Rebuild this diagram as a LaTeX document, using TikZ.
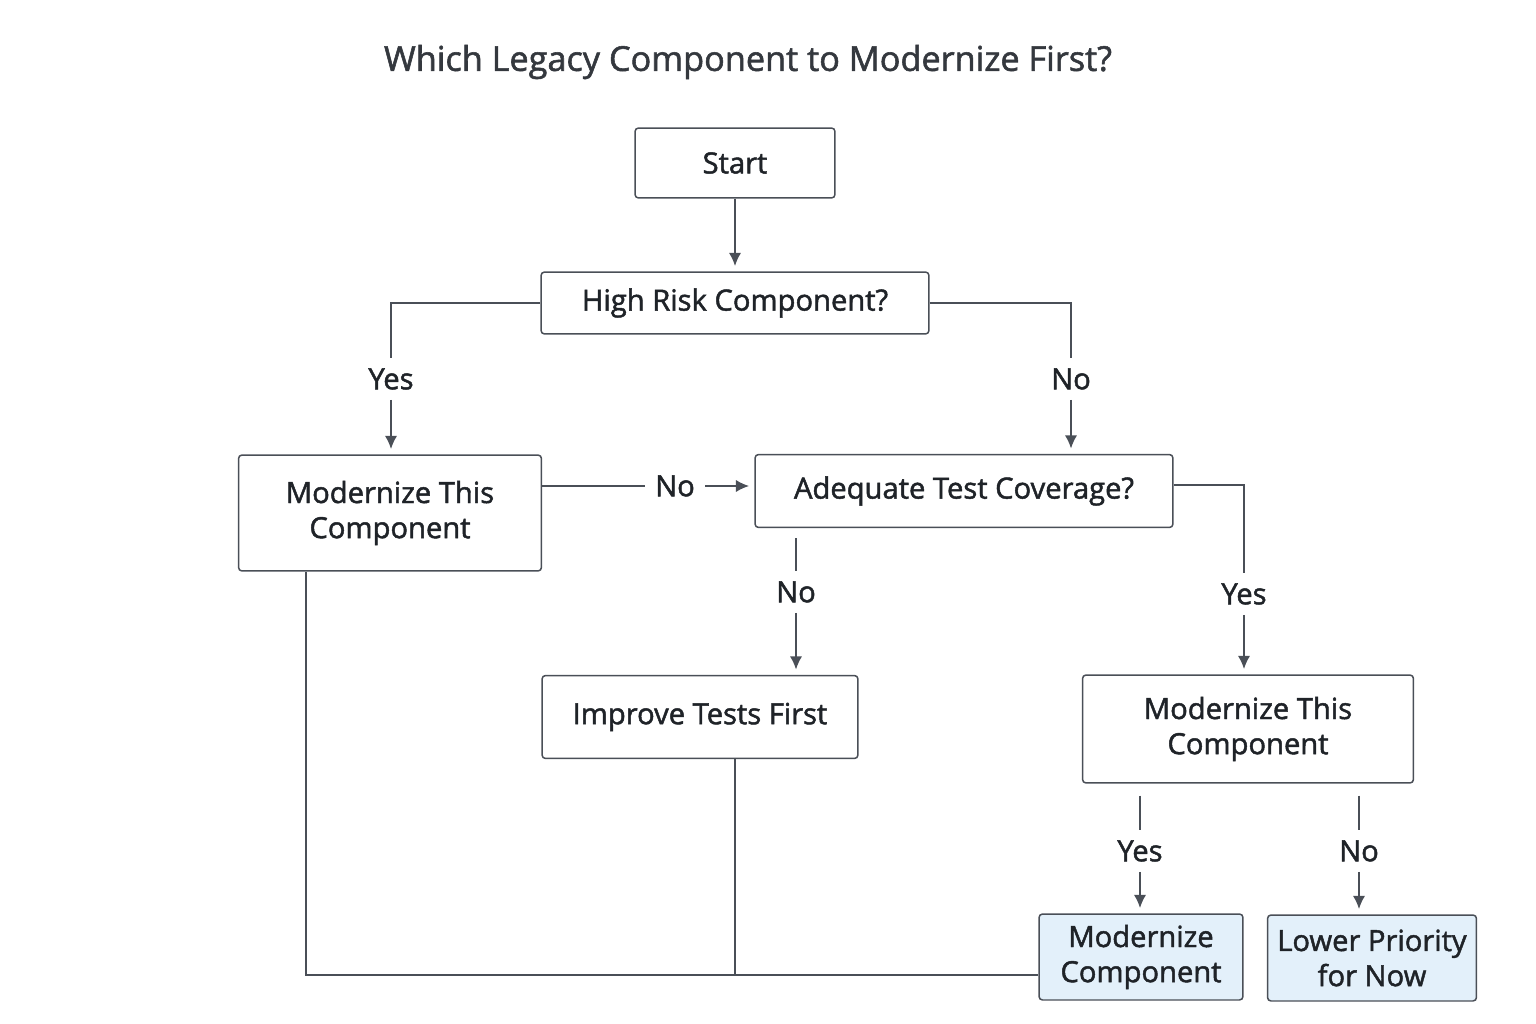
\documentclass[tikz,border=0pt]{standalone}
\usepackage{fontspec}
\setmainfont{Open Sans}[FakeBold=1.6]
\usepackage{tikz}
\usetikzlibrary{calc}
\usetikzlibrary{arrows.meta}
\usetikzlibrary{positioning}
\definecolor{edgegray}{HTML}{4A4F57}
\definecolor{inkgray}{HTML}{1F2328}
\definecolor{titlegray}{HTML}{34383E}
\definecolor{endblue}{HTML}{E3F0FA}
\tikzset{
  box/.style={draw=edgegray, line width=0.85pt, rounded corners=2pt, fill=white,
    text=inkgray, align=center, font=\fontsize{16.6}{20}\selectfont},
  endbox/.style={box, fill=endblue},
  lbl/.style={text=inkgray, inner sep=0.2cm, font=\fontsize{16.6}{20}\selectfont},
  wire/.style={draw=edgegray, line width=0.85pt},
  arr/.style={wire, ->, shorten >=3pt}
}
\begin{document}
\begin{tikzpicture}[x=0.02cm,y=-0.02cm,>={Latex[length=7.5pt,width=7pt]}]
    \useasboundingbox (0,0) rectangle (1536,1024);
    \node (title) at (748,62) [text=titlegray, font=\fontsize{19.5}{23}\selectfont] {Which Legacy Component to Modernize First?};
    % boxes
    \node (start) at (735,163) [box, minimum width=4cm, minimum height=1.4cm] {Start};
    \node (risk) at (735,303) [box, minimum width=7.76cm, minimum height=1.24cm] {High Risk Component?};
    \node (modA) at (390,513) [box, minimum width=6.06cm, minimum height=2.32cm] {Modernize This\\Component};
    \node (cover) at (964,491) [box, minimum width=8.36cm, minimum height=1.46cm] {Adequate Test Coverage?};
    \node (tests) at (700,717) [box, minimum width=6.32cm, minimum height=1.66cm] {Improve Tests First};
    \node (modB) at (1248,729) [box, minimum width=6.62cm, minimum height=2.16cm] {Modernize This\\Component};
    \node (final) at (1141,957) [endbox, minimum width=4.08cm, minimum height=1.72cm] {Modernize\\Component};
    \node (later) at (1372,958) [endbox, minimum width=4.18cm, minimum height=1.72cm] {Lower Priority\\for Now};
    % labels
    \node (yesA) at (391,379) [lbl] {Yes};
    \node (noA) at (1071,379) [lbl] {No};
    \node (noB) at (675,486) [lbl] {No};
    \node (noC) at (796,592) [lbl] {No};
    \node (yesC) at (1244,594) [lbl] {Yes};
    \node (yesD) at (1140,851) [lbl] {Yes};
    \node (noD) at (1359,851) [lbl] {No};
    % connectors
    \draw [arr] (start.south) -- (risk.north);
    \draw [wire] (risk.west) -| (yesA.north);
    \draw [arr] (yesA.south) -- (yesA.south |- modA.north);
    \draw [wire] (risk.east) -| (noA.north);
    \draw [arr] (noA.south) -- (noA.south |- cover.north);
    \draw [wire] (modA.east |- noB) -- (noB.west);
    \draw [arr] (noB.east) -- (cover.west |- noB);
    \draw [wire, shorten <=0.2cm] (noC.north |- cover.south) -- (noC.north);
    \draw [arr] (noC.south) -- (noC.south |- tests.north);
    \draw [wire] (cover.east |- 0,485) -| (yesC.north);
    \draw [arr] (yesC.south) -- (yesC.south |- modB.north);
    \draw [wire, shorten <=0.24cm] (yesD.north |- modB.south) -- (yesD.north);
    \draw [arr] (yesD.south) -- (yesD.south |- final.north);
    \draw [wire, shorten <=0.24cm] (noD.north |- modB.south) -- (noD.north);
    \draw [arr] (noD.south) -- (noD.south |- later.north);
    % merge back
    \coordinate (corner) at (306,975);
    \coordinate (join) at (735,975);
    \draw [wire] (corner |- modA.south) -- (corner) -- (corner -| final.west);
    \draw [wire] (join |- tests.south) -- (join);
\end{tikzpicture}
\end{document}
